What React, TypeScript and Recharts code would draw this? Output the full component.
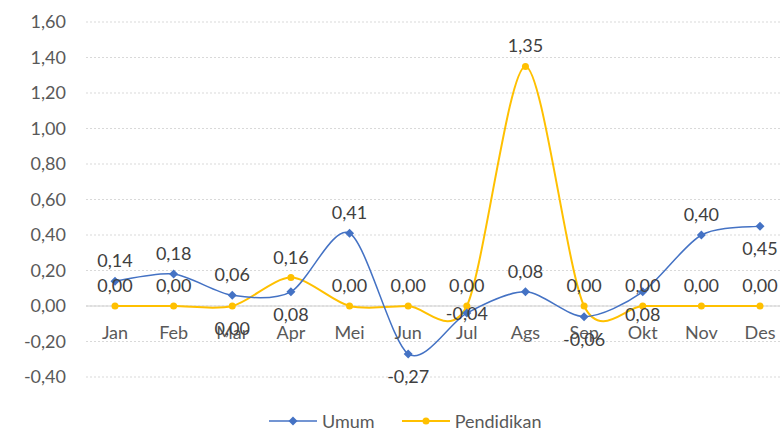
import React from 'react';
import {
  LineChart,
  Line,
  XAxis,
  YAxis,
  CartesianGrid,
  ReferenceLine,
  LabelList,
  Legend,
} from 'recharts';

// data
const months = ['Jan', 'Feb', 'Mar', 'Apr', 'Mei', 'Jun', 'Jul', 'Ags', 'Sep', 'Okt', 'Nov', 'Des'];
const umum = [0.14, 0.18, 0.06, 0.08, 0.41, -0.27, -0.04, 0.08, -0.06, 0.08, 0.4, 0.45];
const pendidikan = [0, 0, 0, 0.16, 0, 0, 0, 1.35, 0, 0, 0, 0];
const yTicks = [-0.4, -0.2, 0, 0.2, 0.4, 0.6, 0.8, 1.0, 1.2, 1.4, 1.6];

// where each data label sits relative to its point
const umumPlace = ['above', 'above', 'above', 'below', 'above', 'below', 'center', 'above', 'below', 'below', 'above', 'below'];
const pendPlace = ['above', 'above', 'below', 'above', 'above', 'above', 'above', 'above', 'above', 'above', 'above', 'above'];

const data = months.map((m, i) => ({ month: m, umum: umum[i], pendidikan: pendidikan[i] }));

const BLUE = '#4472C4';
const GOLD = '#FFC000';
const TEXT = '#595959';
const FONT = 'Lato, "Open Sans", sans-serif';

const fmt = (v: number) => v.toFixed(2).replace('.', ',');

// Excel-like smoothing (cardinal spline drawn as cubic bezier)
const K = 7;
function excelSmooth(context: any) {
  let pts: number[][] = [];
  return {
    areaStart() {},
    areaEnd() {},
    lineStart() {
      pts = [];
    },
    point(x: number, y: number) {
      pts.push([+x, +y]);
    },
    lineEnd() {
      if (!pts.length) return;
      context.moveTo(pts[0][0], pts[0][1]);
      for (let i = 0; i < pts.length - 1; i++) {
        const p0 = pts[i - 1] || pts[i];
        const p1 = pts[i];
        const p2 = pts[i + 1];
        const p3 = pts[i + 2] || p2;
        context.bezierCurveTo(
          p1[0] + (p2[0] - p0[0]) / K,
          p1[1] + (p2[1] - p0[1]) / K,
          p2[0] - (p3[0] - p1[0]) / K,
          p2[1] - (p3[1] - p1[1]) / K,
          p2[0],
          p2[1]
        );
      }
    },
  };
}

const Diamond = (props: any) => {
  const { cx, cy } = props;
  if (cx == null || cy == null) return null;
  const s = 4.5;
  return <path d={`M${cx},${cy - s}L${cx + s},${cy}L${cx},${cy + s}L${cx - s},${cy}Z`} fill={BLUE} />;
};

const Circle = (props: any) => {
  const { cx, cy } = props;
  if (cx == null || cy == null) return null;
  return <circle cx={cx} cy={cy} r={3.5} fill={GOLD} />;
};

const shift: Record<string, number> = { above: -21, below: 22, center: 0 };

const makeLabel = (place: string[]) => (props: any) => {
  const { x, y, value, index } = props;
  return (
    <text
      x={x}
      y={y + shift[place[index]]}
      textAnchor="middle"
      dominantBaseline="central"
      fill="#404040"
      fontSize={18}
      fontFamily={FONT}
    >
      {fmt(value)}
    </text>
  );
};

const MonthTick = (props: any) => {
  const { x, y, payload } = props;
  return (
    <text x={x} y={y - 46} textAnchor="middle" fill={TEXT} fontSize={18} fontFamily={FONT}>
      {payload.value}
    </text>
  );
};

const LegendContent = () => (
  <div style={{ display: 'flex', alignItems: 'center', fontFamily: FONT, fontSize: 18, lineHeight: '18px', color: TEXT }}>
    <svg width={50} height={12}>
      <line x1={1} x2={49} y1={6} y2={6} stroke={BLUE} strokeWidth={1.5} />
      <path d="M25,1.5L29.5,6L25,10.5L20.5,6Z" fill={BLUE} />
    </svg>
    <span style={{ marginLeft: 4, marginRight: 26 }}>Umum</span>
    <svg width={50} height={12}>
      <line x1={1} x2={49} y1={6} y2={6} stroke={GOLD} strokeWidth={2} />
      <circle cx={25} cy={6} r={3.5} fill={GOLD} />
    </svg>
    <span style={{ marginLeft: 4 }}>Pendidikan</span>
  </div>
);

export default function App() {
  return (
    <div style={{ position: 'absolute', left: 0, top: 0, width: 780, height: 430, overflow: 'hidden', background: '#fff' }}>
      <LineChart width={800} height={430} data={data} margin={{ top: 22, right: 11, left: 0, bottom: 0 }}>
        <CartesianGrid vertical={false} stroke="#d9d9d9" strokeDasharray="2 2" />
        <XAxis
          dataKey="month"
          height={53}
          axisLine={false}
          tickLine={false}
          tick={<MonthTick />}
          interval={0}
          padding={{ left: 29, right: 29 }}
        />
        <YAxis
          width={86}
          domain={[-0.4, 1.6]}
          ticks={yTicks}
          axisLine={false}
          tickLine={false}
          tickMargin={14}
          tickFormatter={fmt}
          tick={{ fill: TEXT, fontSize: 18, fontFamily: FONT }}
        />
        <ReferenceLine y={0} stroke="#d0d0d0" strokeWidth={1} />
        <Line
          dataKey="pendidikan"
          name="Pendidikan"
          type={excelSmooth as any}
          stroke={GOLD}
          strokeWidth={2}
          dot={<Circle />}
          activeDot={false}
          isAnimationActive={false}
        >
          <LabelList dataKey="pendidikan" content={makeLabel(pendPlace)} />
        </Line>
        <Line
          dataKey="umum"
          name="Umum"
          type={excelSmooth as any}
          stroke={BLUE}
          strokeWidth={1.5}
          dot={<Diamond />}
          activeDot={false}
          isAnimationActive={false}
        >
          <LabelList dataKey="umum" content={makeLabel(umumPlace)} />
        </Line>
        <Legend
          verticalAlign="middle"
          layout="horizontal"
          content={<LegendContent />}
          wrapperStyle={{ top: 412, left: 268, width: 'auto' }}
        />
      </LineChart>
    </div>
  );
}
